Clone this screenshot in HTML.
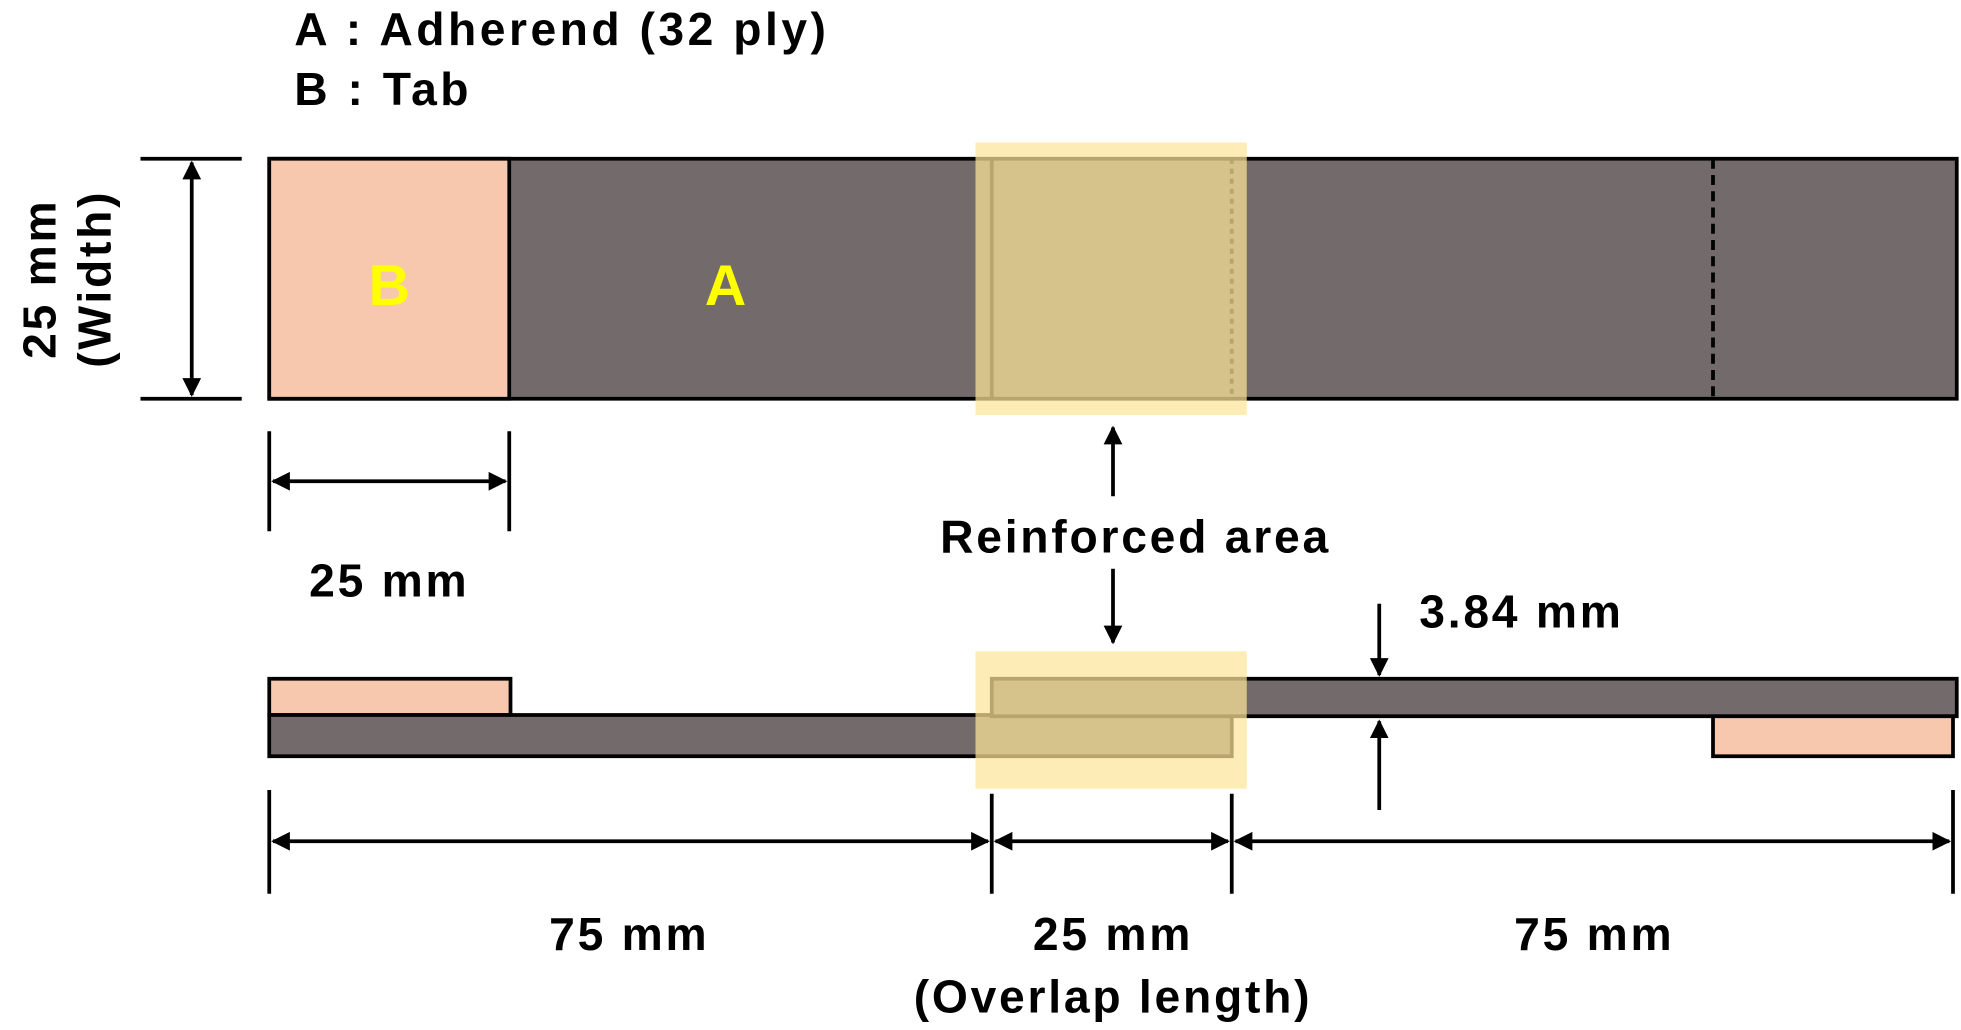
<!DOCTYPE html>
<html><head><style>html,body{margin:0;padding:0;background:#fff}svg{display:block}</style></head>
<body>
<svg width="1961" height="1030" viewBox="0 0 1568 824" xmlns="http://www.w3.org/2000/svg" font-family="Liberation Sans, Arial, sans-serif" font-weight="bold" letter-spacing="2.2">
<defs>
<marker id="ah" viewBox="0 0 10 10" refX="9" refY="5" markerWidth="5" markerHeight="5" orient="auto-start-reverse"><path d="M0,0 L10,5 L0,10 z" fill="#000"/></marker>
</defs>
<text x="235" y="36" font-size="37" letter-spacing="2.8">A : Adherend (32 ply)</text>
<text x="235" y="84" font-size="37" letter-spacing="2.8">B : Tab</text>

<rect x="215" y="127" width="1350" height="192" fill="#736b6b" stroke="#000" stroke-width="3"/>
<rect x="215" y="127" width="192" height="192" fill="#f7c8ad" stroke="#000" stroke-width="3"/>
<line x1="1370" y1="127" x2="1370" y2="319" stroke="#000" stroke-width="3" stroke-dasharray="8,5"/>
<text x="311" y="244" font-size="46" fill="#ffff00" text-anchor="middle" letter-spacing="0">B</text>
<text x="580" y="244" font-size="46" fill="#ffff00" text-anchor="middle" letter-spacing="0">A</text>
<line x1="793" y1="127" x2="793" y2="319" stroke="#000" stroke-width="3"/>
<line x1="985" y1="127" x2="985" y2="319" stroke="#000" stroke-width="3" stroke-dasharray="4,4"/>
<rect x="780" y="114" width="217" height="218" fill="rgb(252,228,153)" fill-opacity="0.72"/>

<line x1="112" y1="127" x2="193" y2="127" stroke="#000" stroke-width="3"/>
<line x1="112" y1="319" x2="193" y2="319" stroke="#000" stroke-width="3"/>
<line x1="153" y1="130" x2="153" y2="316" stroke="#000" stroke-width="3" marker-start="url(#ah)" marker-end="url(#ah)"/>
<text transform="translate(44,223) rotate(-90)" font-size="37" text-anchor="middle">25 mm</text>
<text transform="translate(88,223) rotate(-90)" font-size="37" text-anchor="middle">(Width)</text>

<line x1="215" y1="345" x2="215" y2="425" stroke="#000" stroke-width="3"/>
<line x1="407" y1="345" x2="407" y2="425" stroke="#000" stroke-width="3"/>
<line x1="218" y1="385" x2="404" y2="385" stroke="#000" stroke-width="3" marker-start="url(#ah)" marker-end="url(#ah)"/>
<text x="311" y="477" font-size="37" text-anchor="middle">25 mm</text>

<text x="908" y="442" font-size="37" text-anchor="middle">Reinforced area</text>
<line x1="890" y1="397" x2="890" y2="342" stroke="#000" stroke-width="3" marker-end="url(#ah)"/>
<line x1="890" y1="455" x2="890" y2="514" stroke="#000" stroke-width="3" marker-end="url(#ah)"/>

<rect x="215" y="543" width="193" height="29" fill="#f7c8ad" stroke="#000" stroke-width="3"/>
<rect x="215" y="572" width="770" height="33" fill="#736b6b" stroke="#000" stroke-width="3"/>
<rect x="793" y="543" width="772" height="30" fill="#736b6b" stroke="#000" stroke-width="3"/>
<rect x="1370" y="573" width="192" height="32" fill="#f7c8ad" stroke="#000" stroke-width="3"/>
<rect x="780" y="521" width="217" height="110" fill="rgb(252,228,153)" fill-opacity="0.72"/>

<line x1="1103" y1="483" x2="1103" y2="540" stroke="#000" stroke-width="3" marker-end="url(#ah)"/>
<line x1="1103" y1="648" x2="1103" y2="577" stroke="#000" stroke-width="3" marker-end="url(#ah)"/>
<text x="1135" y="502" font-size="37">3.84 mm</text>

<line x1="215" y1="632" x2="215" y2="715" stroke="#000" stroke-width="3"/>
<line x1="793" y1="635" x2="793" y2="715" stroke="#000" stroke-width="3"/>
<line x1="985" y1="635" x2="985" y2="715" stroke="#000" stroke-width="3"/>
<line x1="1562" y1="632" x2="1562" y2="715" stroke="#000" stroke-width="3"/>
<line x1="218" y1="673" x2="790" y2="673" stroke="#000" stroke-width="3" marker-start="url(#ah)" marker-end="url(#ah)"/>
<line x1="796" y1="673" x2="982" y2="673" stroke="#000" stroke-width="3" marker-start="url(#ah)" marker-end="url(#ah)"/>
<line x1="988" y1="673" x2="1559" y2="673" stroke="#000" stroke-width="3" marker-start="url(#ah)" marker-end="url(#ah)"/>
<text x="503" y="760" font-size="37" text-anchor="middle">75 mm</text>
<text x="890" y="760" font-size="37" text-anchor="middle">25 mm</text>
<text x="890" y="810" font-size="37" text-anchor="middle">(Overlap length)</text>
<text x="1275" y="760" font-size="37" text-anchor="middle">75 mm</text>
</svg>
</body></html>
